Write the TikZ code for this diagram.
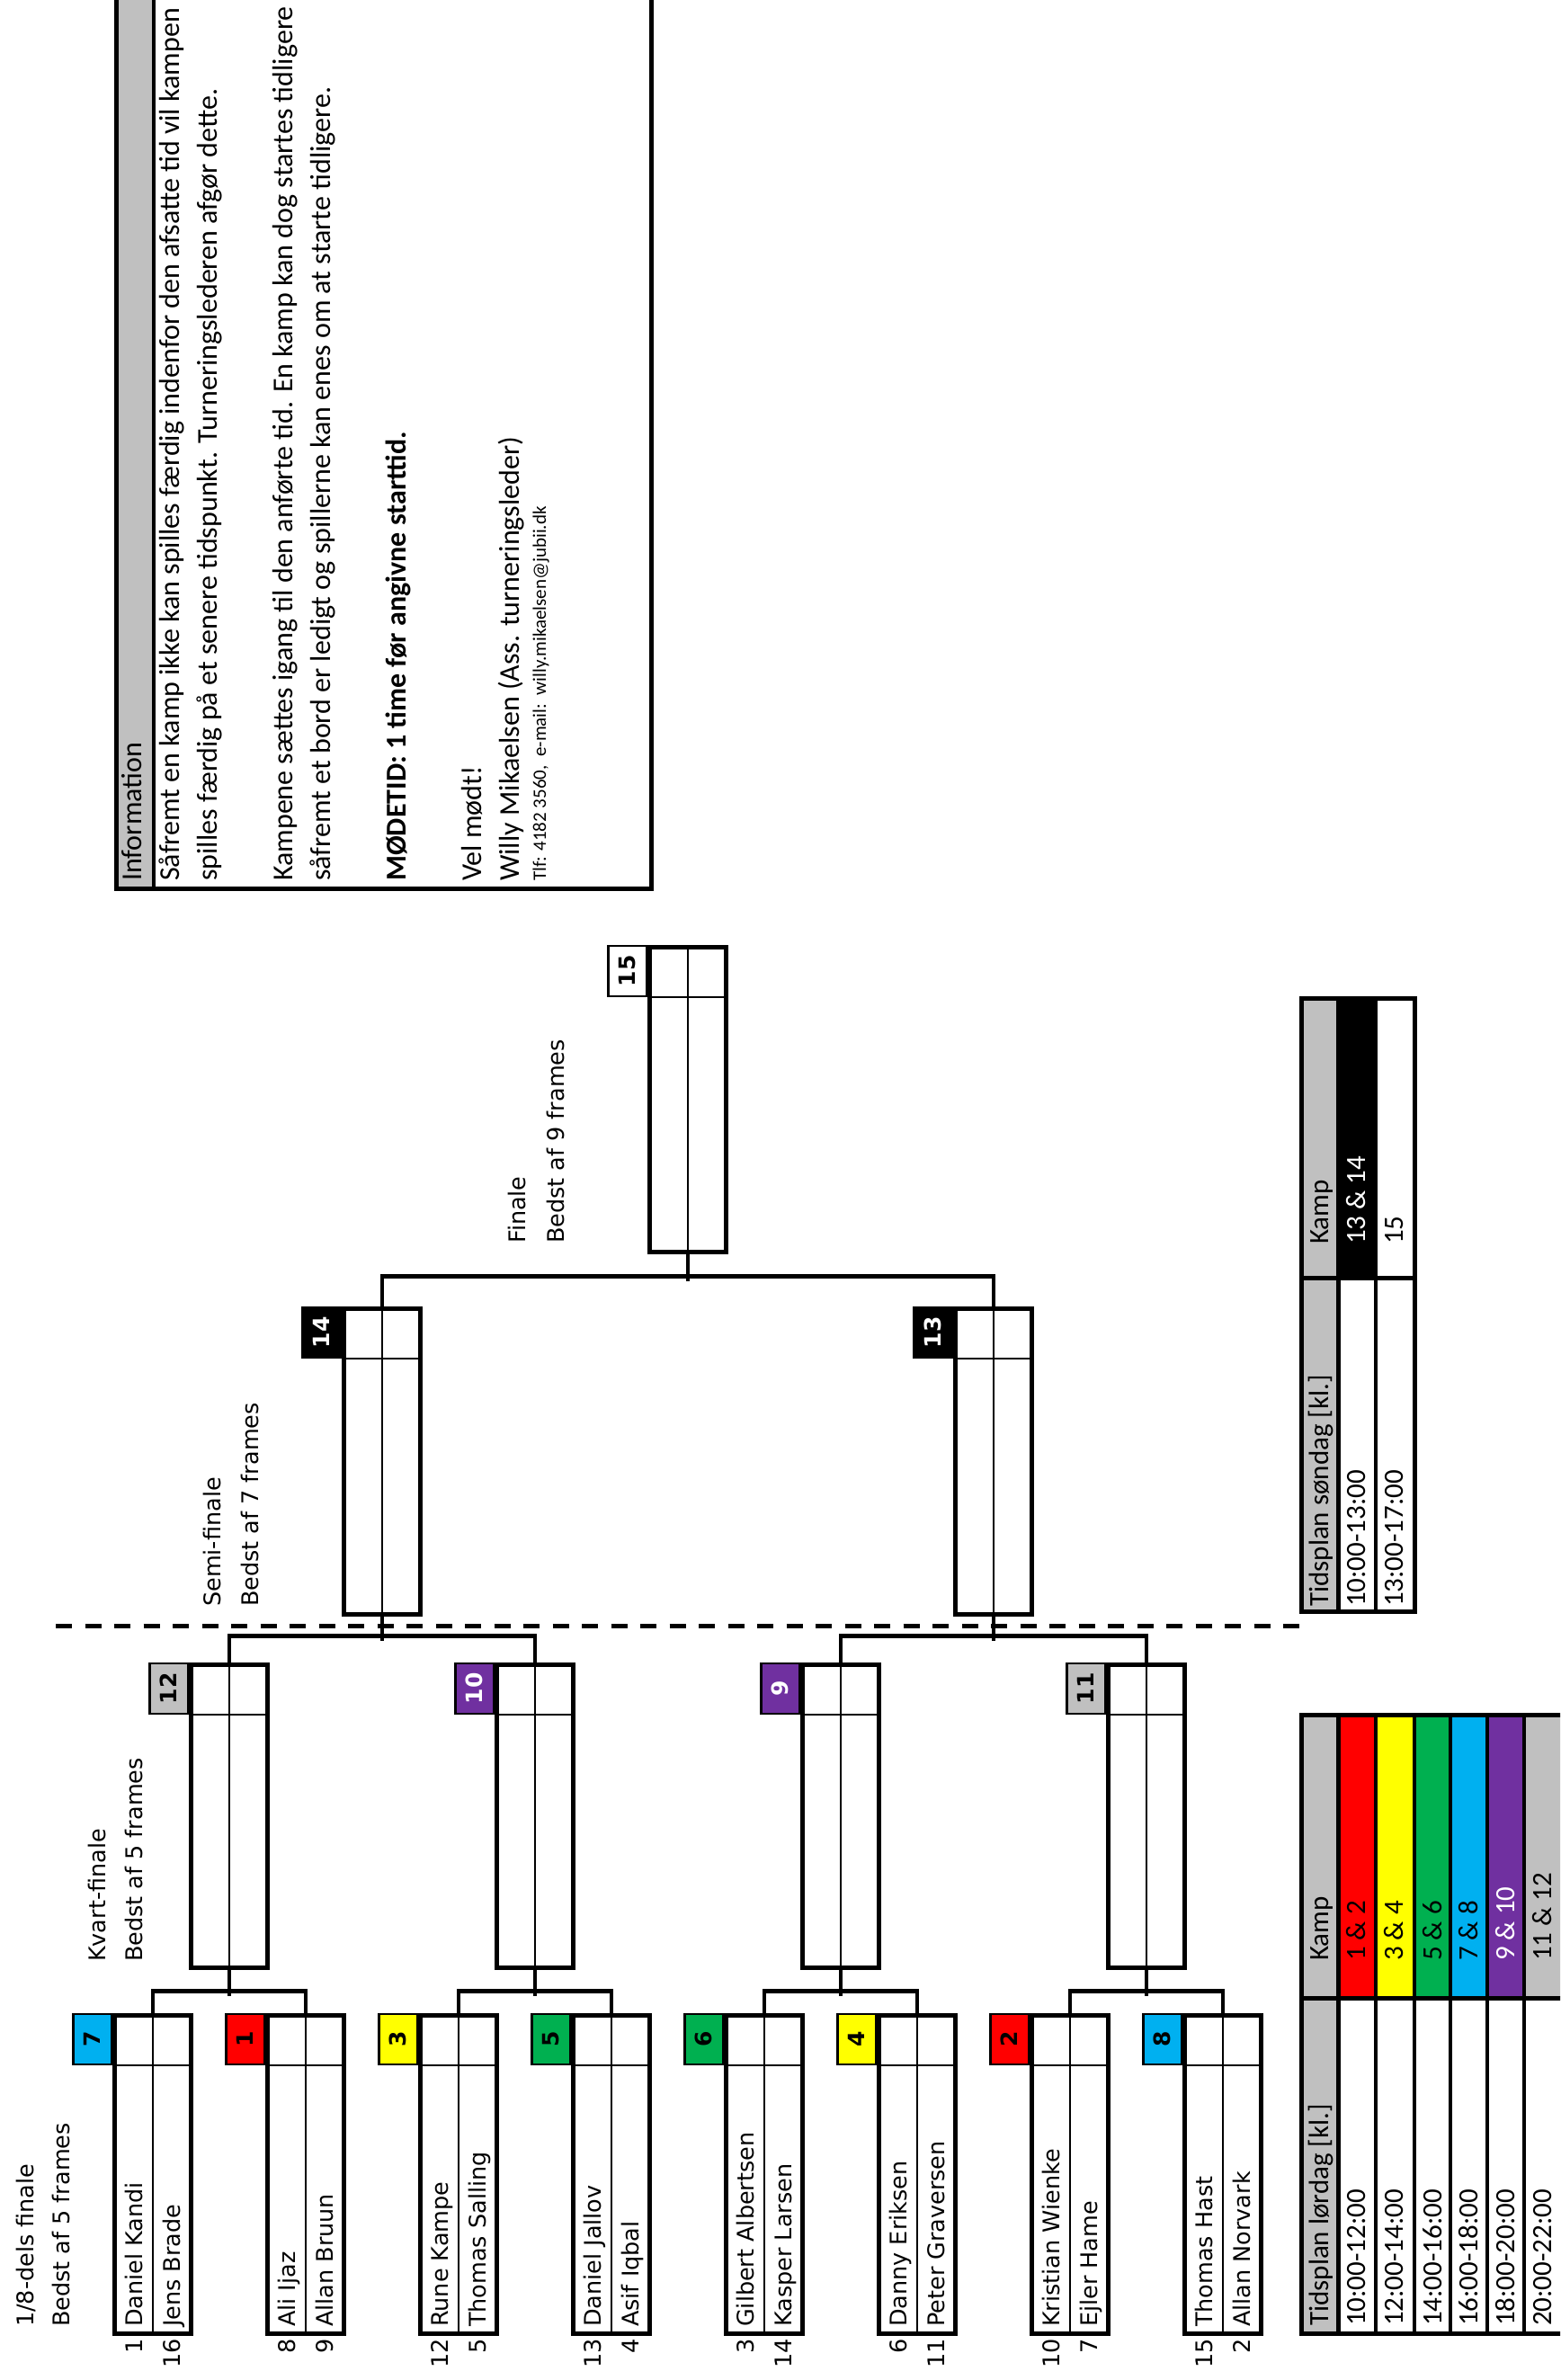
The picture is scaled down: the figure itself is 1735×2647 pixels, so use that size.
\documentclass[tikz,border=0pt]{standalone}
\usepackage{fontspec}
\setmainfont{DejaVu Sans}
\newfontfamily\calfont{Carlito}
\usetikzlibrary{positioning}

\definecolor{kred}{HTML}{FF0000}
\definecolor{kyellow}{HTML}{FFFF00}
\definecolor{kgreen}{HTML}{00B050}
\definecolor{kblue}{HTML}{00B0F0}
\definecolor{kpurple}{HTML}{7030A0}
\definecolor{kgray}{HTML}{C0C0C0}

\tikzset{
  matchbox/.style={draw,rectangle,line width=5pt,minimum width=85pt,inner sep=0pt,
    path picture={
      \draw[line width=2pt] (path picture bounding box.north) -- (path picture bounding box.south);
      \draw[line width=2pt] ([yshift=-56pt]path picture bounding box.north west) -- ([yshift=-56pt]path picture bounding box.north east);}},
  numbox/.style={draw,rectangle,line width=2.5pt,minimum width=42.5pt,minimum height=56pt,inner sep=0pt,
    anchor=north east,font=\fontsize{25}{25}\selectfont\bfseries},
  link/.style={line width=4.5pt},
  player/.style={rotate=90,anchor=base west,inner sep=0pt,font=\fontsize{25.5}{30}\selectfont},
  seedno/.style={player,anchor=base east},
  roundtxt/.style={player},
  cal/.style={rotate=90,anchor=base west,inner sep=0pt,font=\calfont\fontsize{31}{36}\selectfont},
  info/.style={cal,font=\calfont\fontsize{32}{38}\selectfont}
}

\begin{document}
\begin{tikzpicture}[x=1pt,y=-1pt]
  \useasboundingbox (0,0) rectangle (1735,2647);
  \clip (0,0) rectangle (1735,2647);

  % information
  \fill[kgray] (129,-10) rectangle (171,988);
  \draw[line width=4pt] (171,-10) -- (171,988);
  \draw[line width=5pt] (129,-10) rectangle (724,988);
  \node[info] (inf0) at (157,980) {Information};
  \node[info] (inf1) at (199,980) {Såfremt en kamp ikke kan spilles færdig indenfor den afsatte tid vil kampen};
  \node[info] (inf2) at (241,980) {spilles færdig på et senere tidspunkt. Turneringslederen afgør dette.};
  \node[info] (inf3) at (325,980) {Kampene sættes igang til den anførte tid. En kamp kan dog startes tidligere};
  \node[info] (inf4) at (367,980) {såfremt et bord er ledigt og spillerne kan enes om at starte tidligere.};
  \node[info,font=\calfont\fontsize{32}{38}\selectfont\bfseries] (inf5) at (451,980) {MØDETID: 1 time før angivne starttid.};
  \node[info] (inf6) at (535,980) {Vel mødt!};
  \node[info] (inf7) at (577,980) {Willy Mikaelsen (Ass. turneringsleder)};
  \node[info,font=\calfont\fontsize{21}{25}\selectfont] (inf8) at (607,980) {Tlf: 4182 3560,\ \ e-mail:\ \ willy.mikaelsen@jubii.dk};

  % round labels
  \node[roundtxt] (r1a) at (37,2588) {1/8-dels finale};
  \node[roundtxt] (r1b) at (77,2588) {Bedst af 5 frames};
  \node[roundtxt] (r2a) at (117,2182) {Kvart-finale};
  \node[roundtxt] (r2b) at (158,2182) {Bedst af 5 frames};
  \node[roundtxt] (r3a) at (245,1787) {Semi-finale};
  \node[roundtxt] (r3b) at (287,1787) {Bedst af 7 frames};
  \node[roundtxt] (r4a) at (584,1383) {Finale};
  \node[roundtxt] (r4b) at (627,1383) {Bedst af 9 frames};

  % dividing line
  \coordinate (cutL) at (62,1808);
  \coordinate (cutR) at (1453,1808);
  \draw[line width=5pt,dash pattern=on 18pt off 14.5pt] (cutL) -- (cutR);

  % 1/8-dels finale
  \node[matchbox,minimum height=354pt] (m1) at (170,2418) {};
  \node[matchbox,minimum height=354pt] (m2) at (340,2418) {};
  \node[matchbox,minimum height=354pt] (m3) at (510,2418) {};
  \node[matchbox,minimum height=354pt] (m4) at (680,2418) {};
  \node[matchbox,minimum height=354pt] (m5) at (850,2418) {};
  \node[matchbox,minimum height=354pt] (m6) at (1020,2418) {};
  \node[matchbox,minimum height=354pt] (m7) at (1190,2418) {};
  \node[matchbox,minimum height=354pt] (m8) at (1360,2418) {};
  \node[numbox,fill=kblue] (n7) at (m1.north west) {\rotatebox{90}{7}};
  \node[numbox,fill=kred] (n1) at (m2.north west) {\rotatebox{90}{1}};
  \node[numbox,fill=kyellow] (n3) at (m3.north west) {\rotatebox{90}{3}};
  \node[numbox,fill=kgreen] (n5) at (m4.north west) {\rotatebox{90}{5}};
  \node[numbox,fill=kgreen] (n6) at (m5.north west) {\rotatebox{90}{6}};
  \node[numbox,fill=kyellow] (n4) at (m6.north west) {\rotatebox{90}{4}};
  \node[numbox,fill=kred] (n2) at (m7.north west) {\rotatebox{90}{2}};
  \node[numbox,fill=kblue] (n8) at (m8.north west) {\rotatebox{90}{8}};

  % players and seeds
  \node[player] (p1) at (158,2588) {Daniel Kandi};
  \node[player] (p16) at (200,2588) {Jens Brade};
  \node[player] (p8) at (328,2588) {Ali Ijaz};
  \node[player] (p9) at (370,2588) {Allan Bruun};
  \node[player] (p12) at (498,2588) {Rune Kampe};
  \node[player] (p5) at (540,2588) {Thomas Salling};
  \node[player] (p13) at (668,2588) {Daniel Jallov};
  \node[player] (p4) at (710,2588) {Asif Iqbal};
  \node[player] (p3) at (838,2588) {Gilbert Albertsen};
  \node[player] (p14) at (880,2588) {Kasper Larsen};
  \node[player] (p6) at (1008,2588) {Danny Eriksen};
  \node[player] (p11) at (1050,2588) {Peter Graversen};
  \node[player] (p10) at (1178,2588) {Kristian Wienke};
  \node[player] (p7) at (1220,2588) {Ejler Hame};
  \node[player] (p15) at (1348,2588) {Thomas Hast};
  \node[player] (p2) at (1390,2588) {Allan Norvark};
  \node[seedno] (s1a) at (158,2601) {1};
  \node[seedno] (s16a) at (200,2601) {16};
  \node[seedno] (s8a) at (328,2601) {8};
  \node[seedno] (s9a) at (370,2601) {9};
  \node[seedno] (s12a) at (498,2601) {12};
  \node[seedno] (s5a) at (540,2601) {5};
  \node[seedno] (s13a) at (668,2601) {13};
  \node[seedno] (s4a) at (710,2601) {4};
  \node[seedno] (s3a) at (838,2601) {3};
  \node[seedno] (s14a) at (880,2601) {14};
  \node[seedno] (s6a) at (1008,2601) {6};
  \node[seedno] (s11a) at (1050,2601) {11};
  \node[seedno] (s10a) at (1178,2601) {10};
  \node[seedno] (s7a) at (1220,2601) {7};
  \node[seedno] (s15a) at (1348,2601) {15};
  \node[seedno] (s2a) at (1390,2601) {2};

  % kvart-finale
  \node[matchbox,minimum height=337pt] (q1) at (255,2019.5) {};
  \node[matchbox,minimum height=337pt] (q2) at (595,2019.5) {};
  \node[matchbox,minimum height=337pt] (q3) at (935,2019.5) {};
  \node[matchbox,minimum height=337pt] (q4) at (1275,2019.5) {};
  \node[numbox,fill=kgray] (n12) at (q1.north west) {\rotatebox{90}{12}};
  \node[numbox,fill=kpurple,text=white] (n10) at (q2.north west) {\rotatebox{90}{10}};
  \node[numbox,fill=kpurple,text=white] (n9) at (q3.north west) {\rotatebox{90}{9}};
  \node[numbox,fill=kgray] (n11) at (q4.north west) {\rotatebox{90}{11}};

  % semi-finale
  \node[matchbox,minimum height=340pt] (sf1) at (425,1625) {};
  \node[matchbox,minimum height=340pt] (sf2) at (1105,1625) {};
  \node[numbox,fill=black,text=white] (n14) at (sf1.north west) {\rotatebox{90}{14}};
  \node[numbox,fill=black,text=white] (n13) at (sf2.north west) {\rotatebox{90}{13}};

  % finale
  \node[matchbox,minimum height=339pt] (fin) at (765,1222.5) {};
  \node[numbox,fill=white] (n15) at (fin.north west) {\rotatebox{90}{15}};

  % connectors
  \draw[link] (m1.north) -- ++(0,-24) -| (m2.north);
  \draw[link] (m3.north) -- ++(0,-24) -| (m4.north);
  \draw[link] (m5.north) -- ++(0,-24) -| (m6.north);
  \draw[link] (m7.north) -- ++(0,-24) -| (m8.north);
  \draw[link] (q1.south) -- ++(0,29);
  \draw[link] (q2.south) -- ++(0,29);
  \draw[link] (q3.south) -- ++(0,29);
  \draw[link] (q4.south) -- ++(0,29);
  \draw[link] (q1.north) -- ++(0,-29) -| (q2.north);
  \draw[link] (q3.north) -- ++(0,-29) -| (q4.north);
  \draw[link] (sf1.south) -- ++(0,27);
  \draw[link] (sf2.south) -- ++(0,27);
  \draw[link] (sf1.north) -- ++(0,-33) -| (sf2.north);
  \draw[link] (fin.south) -- ++(0,30);

  % tidsplan søndag
  \fill[kgray] (1447,1110) rectangle (1488,1792);
  \fill[black] (1488,1110) rectangle (1530,1421);
  \draw[line width=3.5pt] (1530,1110) -- (1530,1792);
  \draw[line width=5pt] (1488,1110) -- (1488,1792) (1447,1421) -- (1573,1421);
  \draw[line width=5pt] (1447,1110) rectangle (1573,1792);
  \node[cal] (sh1) at (1477,1787) {Tidsplan søndag [kl.]};
  \node[cal] (sh2) at (1477,1384) {Kamp};
  \node[cal] (st1) at (1518,1787) {10:00-13:00};
  \node[cal,text=white] (sk1) at (1518,1384) {13 \& 14};
  \node[cal] (st2) at (1560,1787) {13:00-17:00};
  \node[cal] (sk2) at (1560,1384) {15};

  % tidsplan lørdag
  \fill[kgray] (1447,1907) rectangle (1488,2595);
  \fill[kred] (1488,1907) rectangle (1530,2222);
  \fill[kyellow] (1530,1907) rectangle (1573,2222);
  \fill[kgreen] (1573,1907) rectangle (1613,2222);
  \fill[kblue] (1613,1907) rectangle (1654,2222);
  \fill[kpurple] (1654,1907) rectangle (1695,2222);
  \fill[kgray] (1695,1907) rectangle (1745,2222);
  \draw[line width=3.5pt] (1530,1907) -- (1530,2595) (1573,1907) -- (1573,2595) (1613,1907) -- (1613,2595)
    (1654,1907) -- (1654,2595) (1695,1907) -- (1695,2595);
  \draw[line width=5pt] (1488,1907) -- (1488,2595) (1447,2222) -- (1745,2222);
  \draw[line width=5pt] (1447,1907) rectangle (1745,2595);
  \node[cal] (lh1) at (1477,2587) {Tidsplan lørdag [kl.]};
  \node[cal] (lh2) at (1477,2181) {Kamp};
  \node[cal] (lt1) at (1518,2587) {10:00-12:00};
  \node[cal] (lk1) at (1518,2181) {1 \& 2};
  \node[cal] (lt2) at (1560,2587) {12:00-14:00};
  \node[cal] (lk2) at (1560,2181) {3 \& 4};
  \node[cal] (lt3) at (1603,2587) {14:00-16:00};
  \node[cal] (lk3) at (1603,2181) {5 \& 6};
  \node[cal] (lt4) at (1643,2587) {16:00-18:00};
  \node[cal] (lk4) at (1643,2181) {7 \& 8};
  \node[cal] (lt5) at (1684,2587) {18:00-20:00};
  \node[cal,text=white] (lk5) at (1684,2181) {9 \& 10};
  \node[cal] (lt6) at (1725,2587) {20:00-22:00};
  \node[cal] (lk6) at (1725,2181) {11 \& 12};
\end{tikzpicture}
\end{document}
